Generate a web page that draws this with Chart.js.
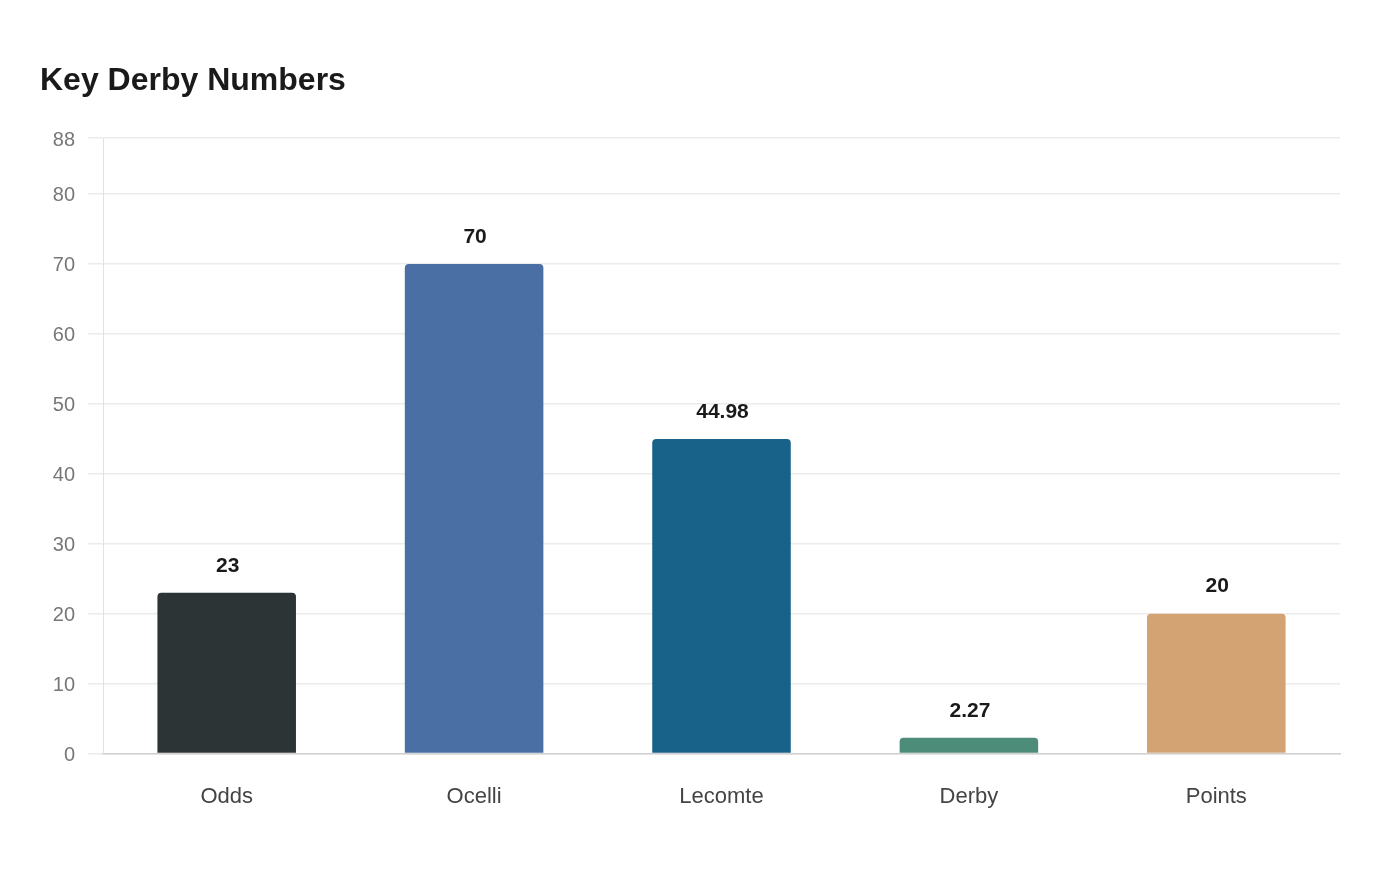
<!DOCTYPE html>
<html>
<head>
<meta charset="utf-8">
<script src="https://cdn.jsdelivr.net/npm/chart.js@4"></script>
<style>
html,body{margin:0;padding:0;background:#fff;}
#wrap{width:1400px;height:880px;position:relative;}
</style>
</head>
<body>
<div id="wrap"><canvas id="c" width="1400" height="880"></canvas></div>
<script>
const categories = ["Odds", "Ocelli", "Lecomte", "Derby", "Points"];
const values = [23, 70, 44.98, 2.27, 20];
const barColors = ["#2d3436", "#4a6fa5", "#186189", "#4e8c7a", "#d4a373"];
const yTicks = [0, 10, 20, 30, 40, 50, 60, 70, 80, 88];
const chartTitle = "Key Derby Numbers";

const FONT = "'Liberation Sans', Arial, sans-serif";

const valueLabels = {
  id: 'valueLabels',
  afterDatasetsDraw(chart) {
    const ctx = chart.ctx;
    const meta = chart.getDatasetMeta(0);
    ctx.save();
    ctx.font = "bold 21px " + FONT;
    ctx.fillStyle = "#1a1a1a";
    ctx.textAlign = "center";
    ctx.textBaseline = "middle";
    meta.data.forEach((bar, i) => {
      ctx.fillText(String(values[i]), bar.x + 1, bar.y - 27);
    });
    ctx.restore();
  }
};

new Chart(document.getElementById('c'), {
  type: 'bar',
  data: {
    labels: categories,
    datasets: [{
      data: values,
      backgroundColor: barColors,
      borderWidth: 0,
      borderRadius: 4,
      borderSkipped: 'start',
      categoryPercentage: 0.8,
      barPercentage: 0.7
    }]
  },
  options: {
    responsive: false,
    animation: false,
    devicePixelRatio: 1,
    layout: { padding: { top: 62, left: 40, right: 60, bottom: 40 } },
    plugins: {
      legend: { display: false },
      tooltip: { enabled: false },
      title: {
        display: true,
        text: chartTitle,
        align: 'start',
        color: '#1a1a1a',
        font: { family: FONT, size: 32, weight: 'bold', lineHeight: 1.2 },
        padding: { top: 0, bottom: 37.6 }
      }
    },
    scales: {
      x: {
        grid: { display: false, drawTicks: false },
        border: { display: true, color: '#d0d0d0', width: 1.5 },
        ticks: { color: '#444', font: { family: FONT, size: 22 }, padding: 30 }
      },
      y: {
        min: 0,
        max: 88,
        afterFit(scale) { scale.width = 63; },
        afterBuildTicks(scale) { scale.ticks = yTicks.map(v => ({ value: v })); },
        grid: { color: '#ebebeb', lineWidth: 1.5, tickLength: 15, drawTicks: true },
        border: { display: true, color: '#e2e2e2', width: 1 },
        ticks: { color: '#777', font: { family: FONT, size: 20 }, padding: 13, labelOffset: 2 }
      }
    }
  },
  plugins: [valueLabels]
});
</script>
</body>
</html>
